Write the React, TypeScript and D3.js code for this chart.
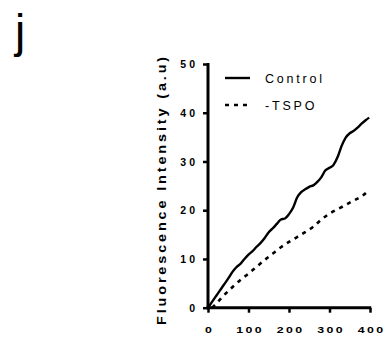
import { useEffect, useRef } from 'react'
import * as d3 from 'd3'

// Control series (time, intensity)
const controlTime = [0, 10, 20, 30, 40, 50, 60, 70, 80, 90, 100, 110, 120, 130, 140, 150, 160, 170, 180, 190, 200, 210, 220, 230, 240, 250, 260, 270, 280, 290, 300, 310, 320, 330, 340, 350, 360, 370, 380, 390, 398]
const controlValues = [0, 1.2, 2.4, 3.6, 4.8, 6, 7.3, 8.3, 9, 10, 10.9, 11.6, 12.5, 13.3, 14.3, 15.5, 16.3, 17.2, 18.1, 18.3, 19.2, 20.5, 22.6, 23.7, 24.3, 24.8, 25.1, 25.8, 26.8, 28.2, 28.7, 29.3, 30.9, 33.2, 34.9, 35.8, 36.3, 37, 37.8, 38.5, 39]

// -TSPO series
const tspoTime = [10, 20, 40, 60, 80, 100, 120, 140, 160, 180, 200, 220, 240, 260, 280, 300, 320, 340, 360, 380, 396]
const tspoValues = [0, 0.8, 2.6, 4.2, 5.7, 7.0, 8.4, 9.8, 11.1, 12.4, 13.5, 14.5, 15.5, 16.6, 18.1, 19.3, 20.2, 21.1, 22.0, 22.9, 24.0]

const xTicks = [0, 100, 200, 300, 400]
const yTicks = [0, 10, 20, 30, 40, 50]
const seriesNames = ['Control', '-TSPO']

const W = 389
const H = 345
const font = '"Liberation Sans", Arial, sans-serif'

export default function App() {
  const svgRef = useRef<SVGSVGElement>(null)

  useEffect(() => {
    const svg = d3.select(svgRef.current)
    svg.selectAll('*').remove()

    const x = d3.scaleLinear().domain([0, 400]).range([208, 370])
    const y = d3.scaleLinear().domain([0, 50]).range([307.7, 64])

    // panel letter
    svg.append('text')
      .attr('x', 15)
      .attr('y', 47)
      .style('font-family', font)
      .style('font-size', '46px')
      .attr('fill', '#000')
      .text('j')

    // axes
    const yAxis = d3.axisLeft(y).tickValues(yTicks).tickSize(5).tickSizeOuter(0).tickFormat(d3.format('d'))
    const gy = svg.append('g').attr('transform', `translate(${x(0)},0)`).call(yAxis)
    gy.select('.domain').attr('stroke', '#000').attr('stroke-width', 3)
      .attr('d', `M0,${y(50) - 1}V${y(0) + 1.5}`)
    gy.selectAll('.tick line').attr('stroke', '#000').attr('stroke-width', 2.5)
    gy.selectAll('.tick text')
      .attr('x', -10)
      .attr('dy', '0.35em')
      .style('font-family', font)
      .style('font-size', '10.5px')
      .style('font-weight', 'bold')
      .style('letter-spacing', '3px')
      .attr('fill', '#000')

    const xAxis = d3.axisBottom(x).tickValues(xTicks).tickSize(5).tickSizeOuter(0).tickFormat(d3.format('d'))
    const gx = svg.append('g').attr('transform', `translate(0,${y(0)})`).call(xAxis)
    gx.select('.domain').attr('stroke', '#000').attr('stroke-width', 3)
      .attr('d', `M${x(0) - 1.5},0H${x(400) + 1.2}`)
    gx.selectAll('.tick line').attr('stroke', '#000').attr('stroke-width', 2.5)
    gx.selectAll('.tick text')
      .attr('y', 0)
      .attr('dy', 0)
      .attr('dx', '0.9px')
      .attr('transform', 'translate(0,25) scale(1.3,1)')
      .style('font-family', font)
      .style('font-size', '9.5px')
      .style('font-weight', 'bold')
      .style('letter-spacing', '1.8px')
      .attr('fill', '#000')

    // y axis title (glyphs stretched along the text, as in the figure)
    svg.append('text')
      .attr('transform', `translate(166,${(324 + 55) / 2}) rotate(-90) scale(1.2,1)`)
      .attr('text-anchor', 'middle')
      .style('font-family', font)
      .style('font-size', '12px')
      .style('font-weight', 'bold')
      .style('letter-spacing', '2.4px')
      .attr('fill', '#000')
      .text('Fluorescence Intensity (a.u)')

    const line = d3.line<[number, number]>()
      .x(d => x(d[0]))
      .y(d => y(d[1]))
      .curve(d3.curveMonotoneX)

    const control = controlTime.map((t, i) => [t, controlValues[i]] as [number, number])
    const tspo = tspoTime.map((t, i) => [t, tspoValues[i]] as [number, number])

    svg.append('path')
      .datum(control)
      .attr('fill', 'none')
      .attr('stroke', '#000')
      .attr('stroke-width', 2.4)
      .attr('d', line)

    svg.append('path')
      .datum(tspo)
      .attr('fill', 'none')
      .attr('stroke', '#000')
      .attr('stroke-width', 2.6)
      .attr('stroke-dasharray', '4,5')
      .attr('d', line)

    // legend
    const legend = svg.append('g')
    seriesNames.forEach((name, i) => {
      const ly = 78 + i * 27
      legend.append('line')
        .attr('x1', 225).attr('x2', 250)
        .attr('y1', ly).attr('y2', ly)
        .attr('stroke', '#000')
        .attr('stroke-width', i === 0 ? 2.4 : 2.6)
        .attr('stroke-dasharray', i === 0 ? null : '4,5')
      legend.append('text')
        .attr('x', 265)
        .attr('y', ly)
        .attr('dy', '0.36em')
        .style('font-family', font)
        .style('font-size', '12.5px')
        .style('letter-spacing', '2.8px')
        .attr('fill', '#000')
        .text(name)
    })
  }, [])

  return (
    <svg
      ref={svgRef}
      width={W}
      height={H}
      style={{ position: 'absolute', left: 0, top: 0, background: '#fff' }}
    />
  )
}
